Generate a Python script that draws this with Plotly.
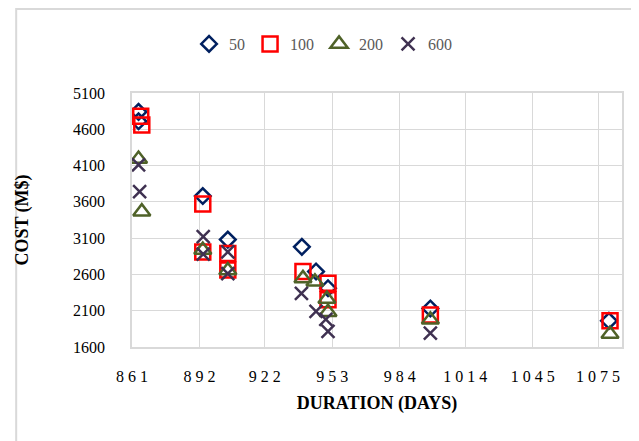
import plotly.graph_objects as go

# Series data: duration (days) and cost (M$)
dur_50 = [864, 864, 893.5, 905, 939, 945.5, 951, 998, 1080]
cost_50 = [4840, 4710, 3680, 3080, 2980, 2640, 2410, 2130, 1960]

dur_100 = [865, 865.5, 893.5, 893.5, 905, 905, 939.5, 951, 951, 998, 1080.5]
cost_100 = [4780, 4660, 3570, 2910, 2890, 2660, 2640, 2480, 2250, 2040, 1960]

dur_200 = [864, 865.5, 893.5, 905, 939.5, 945, 950.5, 951, 998, 1080.5]
cost_200 = [4190, 3465, 2935, 2655, 2545, 2500, 2260, 2080, 1975, 1780]

dur_600 = [864, 864.5, 893.7, 893.7, 905, 905, 938.8, 945.5, 950, 951, 998]
cost_600 = [4110, 3740, 3120, 2880, 2910, 2610, 2340, 2090, 1980, 1815, 1790]

x_ticks = [861, 892, 922, 953, 984, 1014, 1045, 1075]
x_ticktext = [" ".join(str(v)) for v in x_ticks]
y_ticks = [1600, 2100, 2600, 3100, 3600, 4100, 4600, 5100]

series = [
    ("50", dur_50, cost_50, "diamond-open", "#002060", 12),
    ("100", dur_100, cost_100, "square-open", "#FF0000", 15),
    ("200", dur_200, cost_200, "triangle-up-open", "#4F6228", 15),
    ("600", dur_600, cost_600, "x-thin-open", "#3F3151", 13),
]

FONT = "Liberation Serif, Times New Roman, serif"

fig = go.Figure()
for name, xs, ys, sym, col, sz in series:
    fig.add_trace(go.Scatter(
        x=xs, y=ys, mode="markers", name=name,
        marker=dict(symbol=sym, size=sz, color=col,
                    line=dict(color=col, width=2.5)),
    ))

# page has an 8px body margin, so the figure is offset by 8px
W, H = 631, 433
L, R, T, B = 119, 17, 85, 94
pw, ph = W - L - R, H - T - B

fig.update_layout(
    width=W, height=H,
    margin=dict(l=L, r=R, t=T, b=B),
    paper_bgcolor="white", plot_bgcolor="white",
    font=dict(family=FONT, size=16, color="#000000"),
    showlegend=True,
    legend=dict(orientation="h", x=(312 - L) / pw, xanchor="center",
                y=(H - B - 36) / ph, yanchor="middle",
                font=dict(family=FONT, size=16, color="#595959"),
                itemwidth=30, traceorder="normal"),
    xaxis=dict(range=[861, 1086], tickvals=x_ticks, ticktext=x_ticktext,
               showgrid=True, gridcolor="#D9D9D9", gridwidth=1,
               showline=True, linecolor="#D9D9D9", linewidth=1.5, mirror=True,
               zeroline=False, ticks="", ticklabelstandoff=14,
               tickfont=dict(family=FONT, size=16, color="#000000"),
               title=dict(text="<b>DURATION (DAYS)</b>", standoff=12,
                          font=dict(family=FONT, size=18, color="#000000"))),
    yaxis=dict(range=[1600, 5100], tickvals=y_ticks,
               showgrid=True, gridcolor="#D9D9D9", gridwidth=1,
               showline=True, linecolor="#D9D9D9", linewidth=1.5, mirror=True,
               zeroline=False, ticks="", ticklabelstandoff=22,
               tickfont=dict(family=FONT, size=16, color="#000000"),
               title=dict(text="<b>COST (M$)</b>", standoff=40,
                          font=dict(family=FONT, size=18, color="#000000"))),
)

# outer chart border (extends beyond the visible canvas on right/bottom)
fig.add_shape(type="rect", xref="paper", yref="paper",
              x0=(2 - L) / pw, x1=(W + 6 - L) / pw,
              y0=(H - B - (H + 6)) / ph, y1=(H - B - 1) / ph,
              line=dict(color="#D9D9D9", width=2), layer="below")

fig.write_html("out.html")
